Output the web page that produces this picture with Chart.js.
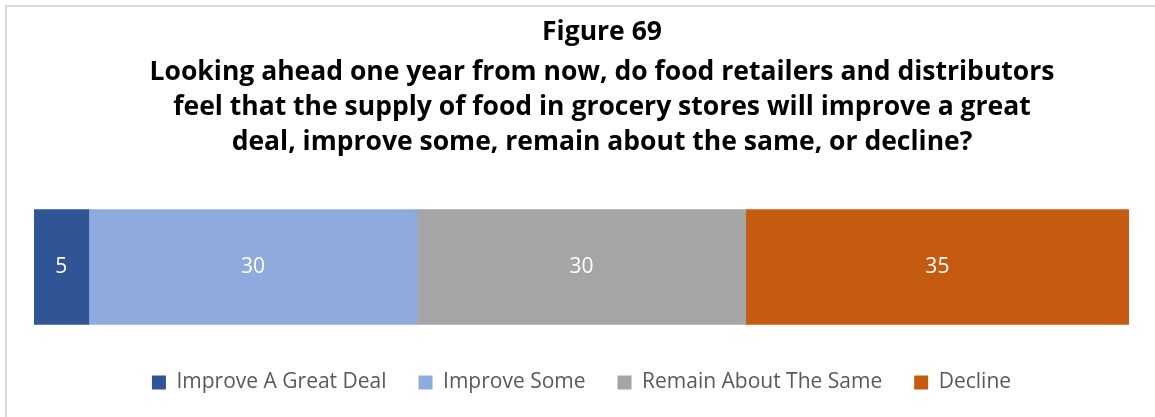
<!DOCTYPE html>
<html>
<head>
<meta charset="utf-8">
<script src="https://cdn.jsdelivr.net/npm/chart.js@4"></script>
<style>
  html, body { margin: 0; padding: 0; background: #fff; overflow: hidden; }
  #frame { position: absolute; left: 5px; top: 5px; width: 1300px; height: 600px;
           border-left: 2px solid #d9d9d9; border-top: 2px solid #d9d9d9; }
  #canvas { position: absolute; left: 0; top: 0; }
</style>
</head>
<body>
<div id="frame"></div>
<canvas id="canvas" width="1155" height="417"></canvas>
<script>
// chart values
const categories = ['Supply'];
const seriesNames = ['Improve A Great Deal', 'Improve Some', 'Remain About The Same', 'Decline'];
const seriesValues = [5, 30, 30, 35];
const seriesColors = ['#2F5597', '#8FAADC', '#A5A5A5', '#C55A11'];
const titleLines = [
    'Figure 69',
    'Looking ahead one year from now, do food retailers and distributors',
    'feel that the supply of food in grocery stores will improve a great',
    'deal, improve some, remain about the same, or decline?'
];
const titleBaselines = [40, 80, 115, 150];

// draws the centred multi-line heading
const headingPlugin = {
    id: 'heading',
    afterDraw(chart) {
        const ctx = chart.ctx;
        ctx.save();
        ctx.fillStyle = '#000';
        ctx.font = 'bold 26.5px "Open Sans"';
        ctx.textAlign = 'center';
        ctx.textBaseline = 'alphabetic';
        titleLines.forEach((line, i) => ctx.fillText(line, 602, titleBaselines[i]));
        ctx.restore();
    }
};

// value labels in the middle of each segment
const segmentLabels = {
    id: 'segmentLabels',
    afterDatasetsDraw(chart) {
        const ctx = chart.ctx;
        ctx.save();
        ctx.fillStyle = '#fff';
        ctx.font = '21px "Open Sans"';
        ctx.textAlign = 'center';
        ctx.textBaseline = 'middle';
        chart.data.datasets.forEach((ds, i) => {
            chart.getDatasetMeta(i).data.forEach((bar, j) => {
                const cx = (bar.x + bar.base) / 2;
                ctx.fillText(String(ds.data[j]), cx, bar.y);
            });
        });
        ctx.restore();
    }
};

function createVisualization() {
    const ctx = document.getElementById('canvas').getContext('2d');

    new Chart(ctx, {
        type: 'bar',
        data: {
            labels: categories,
            datasets: seriesNames.map((name, i) => ({
                label: name,
                data: [seriesValues[i]],
                backgroundColor: seriesColors[i],
                borderWidth: 0,
                barThickness: 115
            }))
        },
        options: {
            indexAxis: 'y',
            responsive: false,
            animation: false,
            layout: {
                padding: { top: 194, left: 34, right: 26, bottom: 14 }
            },
            scales: {
                x: { stacked: true, min: 0, max: 100, display: false },
                y: { stacked: true, display: false }
            },
            plugins: {
                title: { display: false },
                tooltip: { enabled: false },
                legend: {
                    display: true,
                    position: 'bottom',
                    maxHeight: 70,
                    labels: {
                        boxWidth: 14,
                        boxHeight: 14,
                        padding: 32,
                        color: '#595959',
                        font: { family: 'Open Sans', size: 21 }
                    }
                }
            }
        },
        plugins: [headingPlugin, segmentLabels]
    });
}

createVisualization();
</script>
</body>
</html>
